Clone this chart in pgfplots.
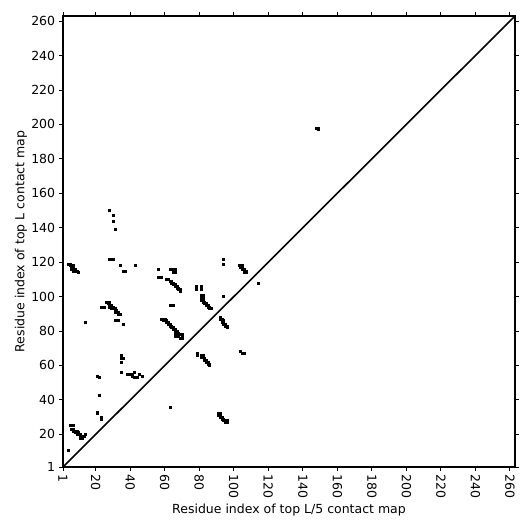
\documentclass[border=0pt]{standalone}
\usepackage{fontspec}
\setmainfont{DejaVu Sans}
\usepackage{pgfplots}
\pgfplotsset{compat=1.18}
\begin{document}
\fontsize{12.5}{15}\selectfont
\begin{tikzpicture}
\useasboundingbox (-63pt,-64pt) rectangle (468pt,467pt);
\begin{axis}[
  at={(0,0)}, anchor=south west,
  scale only axis, width=452pt, height=451pt,
  xmin=1, xmax=263, ymin=1, ymax=263,
  xtick={1,20,40,60,80,100,120,140,160,180,200,220,240,260},
  ytick={1,20,40,60,80,100,120,140,160,180,200,220,240,260},
  tick align=outside, major tick length=3.5pt,
  tick style={line width=0.8pt, black},
  axis line style={line width=1.5pt},
  /pgf/number format/assume math mode=true,
  ticklabel style={font=\fontsize{12.5}{15}\selectfont},
  xticklabel style={rotate=-90, anchor=west},
  xlabel={Residue index of top L/5 contact map},
  ylabel={Residue index of top L contact map},
  label style={font=\fontsize{12.5}{15}\selectfont},
  xlabel style={at={(axis description cs:0.5,-0.0953)}, anchor=center},
  ylabel style={at={(axis description cs:-0.0929,0.5)}, anchor=center},
]
\addplot[only marks, mark=square*, mark size=1.0pt, mark options={draw=none, fill=black}] coordinates {
(4,119) (5,119) (5,118) (6,118) (7,118) (6,117) (7,117) (6,116) (7,116) (8,116) (7,115) (8,115) (9,115) (10,114)
(28,122) (29,122) (30,122) (34,118) (36,115) (37,115) (43,118)
(28,150) (30,147) (30,144) (31,139)
(26,97) (28,97)
(27,96) (28,96) (28,95) (29,95) (28,94) (29,94) (30,94) (29,93) (30,93) (31,93) (31,92) (32,92) (31,91) (32,91) (33,91) (33,90) (34,90)
(23,94) (25,94) (14,85) (31,86) (33,86) (36,84)
(35,66) (35,64) (36,64) (35,62)
(35,56) (38,55) (40,55) (41,55) (41,54) (42,56) (42,53) (43,53) (44,53) (45,55) (47,54)
(21,54) (22,53) (22,43) (21,33) (21,32) (23,30) (23,29)
(5,25) (6,25) (7,25)
(6,23) (7,23) (7,22) (8,22) (9,22) (8,21) (9,21) (10,21) (9,20) (10,20) (11,20) (11,19) (12,19) (11,18) (12,18) (13,19) (14,20)
(4,11) (63,36)
(94,122) (94,119)
(103,118) (104,118) (105,118) (104,117) (105,117) (105,116) (106,116) (106,115) (107,115) (106,114) (107,114)
(114,108)
(56,116) (63,116) (65,116) (66,116) (65,114) (66,114)
(56,111) (58,111) (61,110)
(62,110) (63,109) (64,109) (64,108) (65,108) (65,107) (66,107) (66,106) (67,106) (67,105) (68,105) (68,104) (69,104) (69,103)
(78,106) (81,106) (78,104) (81,104)
(81,101) (82,101) (81,100)
(81,99) (82,99) (81,98) (82,98) (82,97) (83,97) (83,96) (84,96) (84,95) (85,95) (85,94) (86,94) (86,93) (87,93)
(94,100) (63,95) (65,95)
(58,87) (59,87) (60,87) (59,86) (60,86) (61,86) (61,85) (62,85) (62,84) (63,84) (63,83) (64,83) (64,82) (65,82) (65,81) (66,81) (66,80) (67,80) (66,79) (67,79) (68,79) (67,78) (68,78) (66,77) (67,77) (68,77) (69,78) (70,78) (70,77) (70,76) (69,76)
(92,88) (92,87) (93,87) (93,86) (94,86) (93,85) (94,85) (94,84) (95,84) (95,83) (96,83) (96,82)
(79,67) (79,66)
(81,66) (82,66) (81,65) (82,65) (83,64) (83,63) (84,63) (84,62) (85,62) (85,61) (86,61) (86,60)
(104,68) (105,67) (106,67)
(91,32) (92,32) (91,31) (92,31) (92,30) (93,30) (93,29) (94,29) (94,28) (95,28) (96,28) (95,27) (96,27)
(148,198) (149,198) (149,197)
};
\addplot[black, line width=1.6pt] coordinates {(1,1) (263,263)};
\end{axis}
\end{tikzpicture}
\end{document}
